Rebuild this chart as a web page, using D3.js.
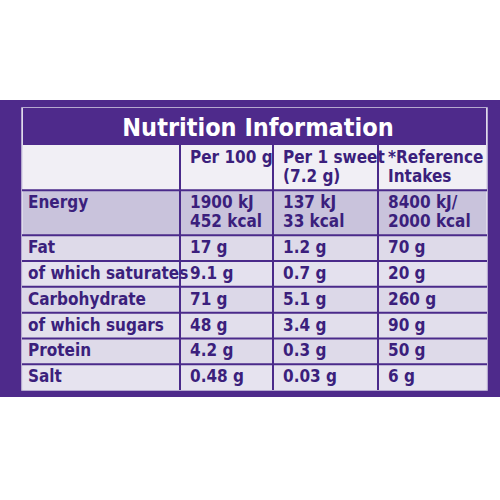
<!DOCTYPE html>
<html><head><meta charset="utf-8">
<script src="https://cdn.jsdelivr.net/npm/d3@7"></script>
<style>body{margin:0;background:#fff}</style></head>
<body><svg id="c" width="500" height="500"></svg>
<script>
const title = "Nutrition Information";
const headers = [["Per 100 g"], ["Per 1 sweet", "(7.2 g)"], ["*Reference", "Intakes"]];
const rowLabels = ["Energy", "Fat", "of which saturates", "Carbohydrate", "of which sugars", "Protein", "Salt"];
const per100 = [["1900 kJ", "452 kcal"], ["17 g"], ["9.1 g"], ["71 g"], ["48 g"], ["4.2 g"], ["0.48 g"]];
const perSweet = [["137 kJ", "33 kcal"], ["1.2 g"], ["0.7 g"], ["5.1 g"], ["3.4 g"], ["0.3 g"], ["0.03 g"]];
const reference = [["8400 kJ/", "2000 kcal"], ["70 g"], ["20 g"], ["260 g"], ["90 g"], ["50 g"], ["6 g"]];
const rowFills = ["#c9c3dc", "#dedae9", "#e4e1ee", "#dcd8e8", "#e2dfec", "#dedae9", "#e6e3ef"];

const svg = d3.select("#c");
const font = "'DejaVu Sans Condensed','DejaVu Sans',sans-serif";
const ink = "#3b1f7c", line = "#4a2a8a";
svg.append("rect").attr("x",0).attr("y",100).attr("width",500).attr("height",297).attr("fill","#4e2a8b");

// row units: header, then data rows
const weights = [1.75].concat(rowLabels.map((d,i)=> per100[i].length>1 ? 1.75 : 1));
const cum = [0]; weights.forEach(w=>cum.push(cum[cum.length-1]+w));
const y = d3.scaleLinear().domain([0, cum[cum.length-1]]).range([145, 390]);
const colEdges = [22, 180, 273, 378, 487];
const x = d3.scaleLinear().domain([0,1,2,3,4]).range(colEdges);

// table frame & title band
svg.append("rect").attr("x",x(0)).attr("y",108).attr("width",x(4)-x(0)).attr("height",282).attr("fill","#f1eff5").attr("stroke","#d8d3e6").attr("stroke-width",1.5);
svg.append("rect").attr("x",x(0)+1).attr("y",108).attr("width",x(4)-x(0)-2).attr("height",37).attr("fill","#4e2a8b");
svg.append("text").attr("x",258).attr("y",136).attr("text-anchor","middle").attr("fill","#fff")
  .attr("font-family",font).attr("font-weight","bold").attr("font-size",25).text(title);

// rows
rowLabels.forEach((lab,i)=>{
  const y0=y(cum[i+1]), y1=y(cum[i+2]);
  svg.append("rect").attr("x",x(0)+1).attr("y",y0).attr("width",x(4)-x(0)-2).attr("height",y1-y0).attr("fill",rowFills[i]);
  svg.append("line").attr("x1",x(0)).attr("x2",x(4)).attr("y1",y0).attr("y2",y0).attr("stroke",line).attr("stroke-width",2);
  const cells=[[lab],per100[i],perSweet[i],reference[i]];
  cells.forEach((c,j)=>{
    const t=svg.append("text").attr("fill",ink).attr("font-family",font).attr("font-weight","bold").attr("font-size",17);
    c.forEach((s,k)=>t.append("tspan").attr("x",x(j)+(j==0?6:10)).attr("y",y0+18+k*19).text(s));
  });
});
// header
const hy=y(0);
headers.forEach((h,j)=>{
  const t=svg.append("text").attr("fill",ink).attr("font-family",font).attr("font-weight","bold").attr("font-size",17);
  h.forEach((s,k)=>t.append("tspan").attr("x",x(j+1)+10).attr("y",hy+18+k*19).text(s));
});
// vertical lines
[1,2,3].forEach(j=>svg.append("line").attr("x1",x(j)).attr("x2",x(j)).attr("y1",145).attr("y2",390).attr("stroke",line).attr("stroke-width",2));
</script></body></html>
